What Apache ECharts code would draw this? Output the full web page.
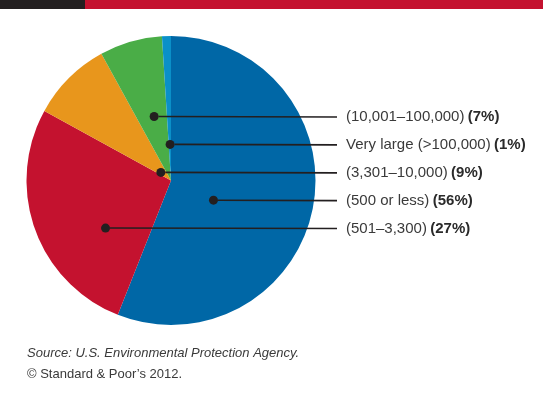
<!DOCTYPE html>
<html>
<head>
<meta charset="utf-8">
<script src="https://cdn.jsdelivr.net/npm/echarts@6/dist/echarts.min.js"></script>
<style>
  html, body { margin: 0; padding: 0; background: #ffffff; }
  #chart { width: 543px; height: 407px; }
</style>
</head>
<body>
<div id="chart"></div>
<script>
// Water systems by size (population served), share of all systems
const categories = ['(500 or less)', '(501–3,300)', '(3,301–10,000)', '(10,001–100,000)', 'Very large (>100,000)'];
const shares = [56, 27, 9, 7, 1];
const sliceColors = ['#0067a6', '#c4122f', '#e8961c', '#4aad47', '#0a90c8'];
// Where each leader dot sits: [fraction of the pie radius, position around the pie in percent]
const leaderAnchors = [[0.324, 31.9], [0.56, 65.0], [0.09, 85.7], [0.458, 95.9], [0.25, 99.6]];
const sourceLines = ['Source: U.S. Environmental Protection Agency.', '© Standard & Poor’s 2012.'];

const FONT = '"Liberation Sans", Arial, sans-serif';
const PIE_CENTER = [171, 180.5];
const PIE_RADIUS = 144.5;
const INK = '#231f20';
const LABEL_LEFT = 337;

const chart = echarts.init(document.getElementById('chart'), null, { renderer: 'canvas' });

chart.setOption({
  animation: false,
  backgroundColor: '#ffffff',
  polar: { center: PIE_CENTER, radius: PIE_RADIUS },
  angleAxis: { type: 'value', min: 0, max: 100, startAngle: 90, clockwise: true, show: false },
  radiusAxis: { type: 'value', min: 0, max: 1, show: false },
  series: [
    {
      type: 'pie',
      center: PIE_CENTER,
      radius: PIE_RADIUS,
      startAngle: 90,
      clockwise: true,
      silent: true,
      label: { show: false },
      labelLine: { show: false },
      data: categories.map((name, i) => ({
        name, value: shares[i], itemStyle: { color: sliceColors[i] }
      }))
    },
    {
      type: 'scatter',
      coordinateSystem: 'polar',
      silent: true,
      z: 5,
      symbol: 'circle',
      symbolSize: 9,
      itemStyle: { color: INK, opacity: 1 },
      data: leaderAnchors.map((a, i) => ({ name: categories[i], value: a })),
      label: {
        show: true,
        position: 'right',
        padding: [0, 0, 0, 9],
        backgroundColor: '#ffffff',
        formatter: p => '{n|' + categories[p.dataIndex] + '} {b|(' + shares[p.dataIndex] + '%)}',
        rich: {
          n: { fontFamily: FONT, fontSize: 15, color: '#3a3a3a' },
          b: { fontFamily: FONT, fontSize: 15, fontWeight: 'bold', color: '#2a2a2a' }
        }
      },
      // keep each label level with its dot, aligned in one column on the right
      labelLayout: p => ({
        x: LABEL_LEFT,
        y: p.rect.y + p.rect.height / 2 + 0.5,
        align: 'left',
        verticalAlign: 'middle'
      }),
      labelLine: { show: true, lineStyle: { color: INK, width: 1.6 } }
    }
  ],
  graphic: [
    { type: 'rect', silent: true, shape: { x: 0, y: 0, width: 85, height: 9 }, style: { fill: INK } },
    { type: 'rect', silent: true, shape: { x: 85, y: 0, width: 458, height: 9 }, style: { fill: '#c4122f' } },
    {
      type: 'text', left: 27, top: 347, silent: true,
      style: { text: sourceLines[0], font: 'italic 13px ' + FONT, fill: '#3a3a3a' }
    },
    {
      type: 'text', left: 27, top: 368, silent: true,
      style: { text: sourceLines[1], font: '13px ' + FONT, fill: '#3a3a3a' }
    }
  ]
});
</script>
</body>
</html>
